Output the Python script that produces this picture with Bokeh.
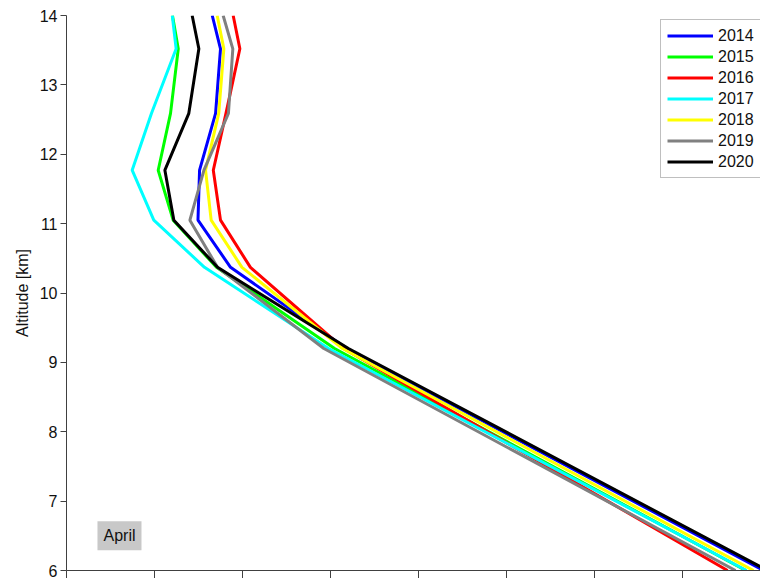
from bokeh.plotting import figure
from bokeh.models import (FixedTicker, Range1d, Legend, LegendItem, Label,
                          CustomLabelingPolicy)
from bokeh.embed import file_html
from bokeh.resources import INLINE

# Altitude levels [km]
altitude = [14.0, 13.52, 12.59, 11.77, 11.05, 10.37, 9.2, 6.0]

# Temperature [deg C] per year at those levels
t_2014 = [-56.72, -56.25, -56.53, -57.44, -57.53, -55.68, -49.09, -25.40]
t_2015 = [-58.98, -58.65, -59.09, -59.79, -58.94, -56.48, -49.77, -26.40]
t_2016 = [-55.53, -55.15, -55.94, -56.66, -56.25, -54.55, -49.26, -27.44]
t_2017 = [-58.99, -58.77, -60.17, -61.27, -60.04, -57.16, -50.11, -26.36]
t_2018 = [-56.44, -56.06, -56.35, -57.10, -56.78, -55.03, -49.32, -25.97]
t_2019 = [-56.10, -55.55, -55.80, -57.19, -57.99, -56.42, -50.38, -26.99]
t_2020 = [-57.86, -57.48, -58.05, -59.41, -58.90, -56.42, -48.98, -25.17]

years = ["2014", "2015", "2016", "2017", "2018", "2019", "2020"]
series = [t_2014, t_2015, t_2016, t_2017, t_2018, t_2019, t_2020]
colors = ["#0000ff", "#00ff00", "#ff0000", "#00ffff", "#ffff00", "#808080", "#000000"]

x_ticks = [-65, -60, -55, -50, -45, -40, -35, -30]
y_ticks = [6, 7, 8, 9, 10, 11, 12, 13, 14]

FONT = "Liberation Sans"

p = figure(width=760, height=578, output_backend="svg", toolbar_location=None,
           x_range=Range1d(-65, -25.57), y_range=Range1d(6, 14),
           min_border_left=66, min_border_right=0, min_border_top=15,
           min_border_bottom=8)
p.outline_line_color = None
p.grid.visible = False
p.background_fill_color = "white"
p.border_fill_color = "white"

items = []
for yr, t, c in zip(years, series, colors):
    r = p.line(t, altitude, line_color=c, line_width=3)
    items.append(LegendItem(label=yr, renderers=[r]))

# y axis
p.yaxis.ticker = FixedTicker(ticks=y_ticks)
p.yaxis.axis_label = "Altitude [km]"
p.yaxis.axis_label_text_font = FONT
p.yaxis.axis_label_text_font_style = "normal"
p.yaxis.axis_label_text_font_size = "16px"
p.yaxis.axis_label_text_color = "#111111"
p.yaxis.axis_label_standoff = 6
p.yaxis.major_label_text_font = FONT
p.yaxis.major_label_text_font_size = "16px"
p.yaxis.major_label_text_color = "#111111"
p.yaxis.major_label_standoff = 3
p.yaxis.major_tick_out = 6
p.yaxis.major_tick_in = 0
p.yaxis.minor_tick_line_color = None
p.yaxis.axis_line_color = "#404040"
p.yaxis.major_tick_line_color = "#404040"

# x axis (its labels fall outside the view, so none are drawn)
p.xaxis.ticker = FixedTicker(ticks=x_ticks)
p.xaxis.major_label_text_font_size = "0px"
p.xaxis.major_label_standoff = 0
p.xaxis.major_label_policy = CustomLabelingPolicy(
    code="for (const i of indices) { indices.unset(i) } return indices")
p.xaxis.major_tick_out = 8
p.xaxis.major_tick_in = 0
p.xaxis.minor_tick_line_color = None
p.xaxis.axis_line_color = "#404040"
p.xaxis.major_tick_line_color = "#404040"

legend = Legend(items=items, location=(594, 392), margin=0, padding=6,
                spacing=2, glyph_width=46, glyph_height=19, label_height=19,
                label_width=36, label_standoff=5,
                label_text_font=FONT, label_text_font_size="16px",
                label_text_color="#111111",
                border_line_color="#808080", border_line_width=1,
                background_fill_color="white", background_fill_alpha=1.0)
p.add_layout(legend)

lab = Label(x=-63.24, y=6.5, text="April", text_font=FONT, text_font_size="16px",
            text_baseline="middle", text_align="left", text_color="#111111",
            background_fill_color="#c8c8c8", padding=6)
p.add_layout(lab)

open("out.html", "w").write(file_html(p, INLINE))
